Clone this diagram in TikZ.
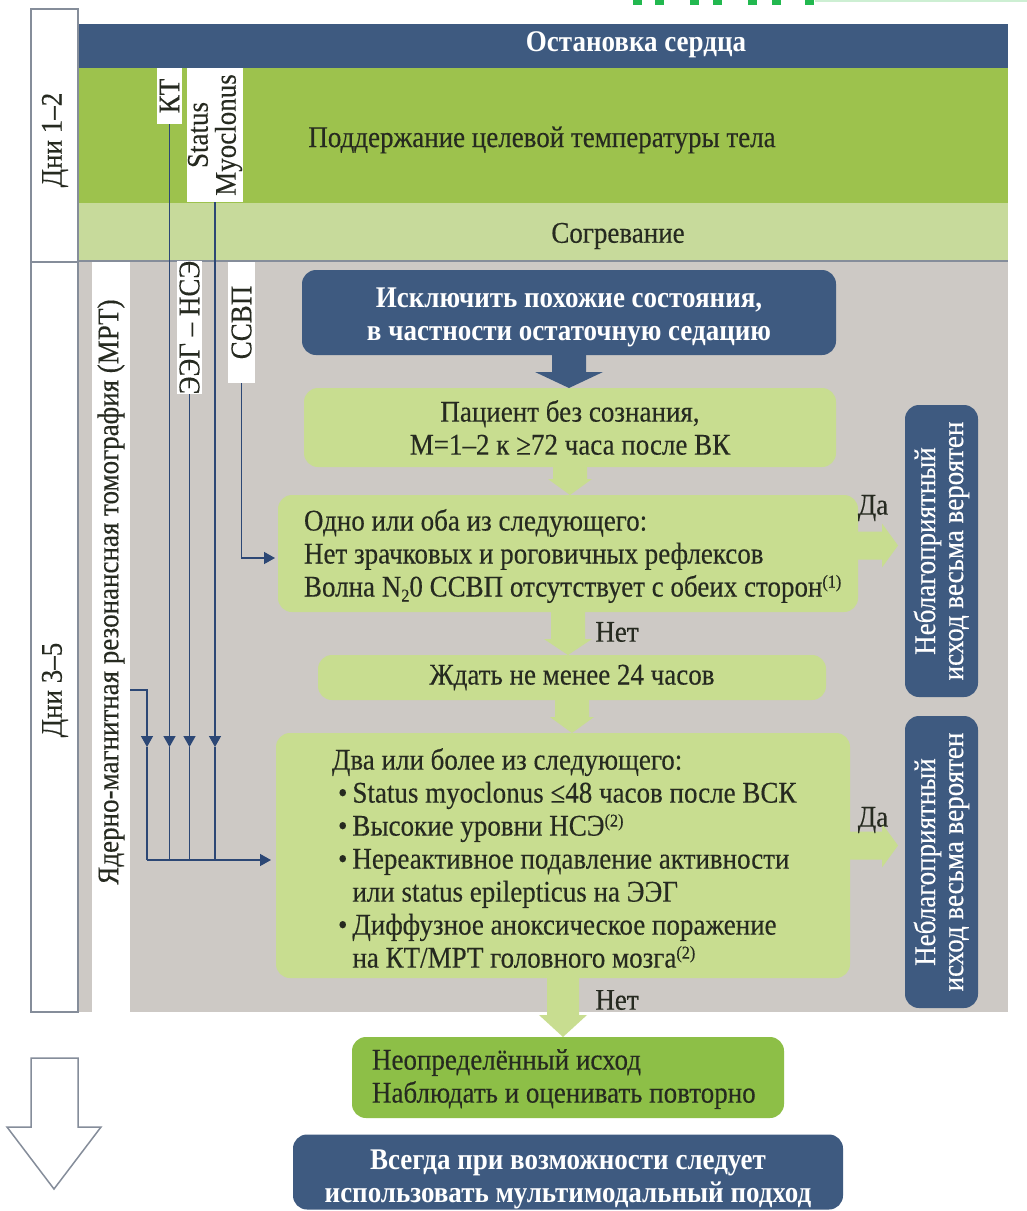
\documentclass[tikz,border=0pt]{standalone}
\usepackage{fontspec}
\setmainfont{Liberation Serif}[FakeStretch=0.9, UprightFeatures={FakeBold=0.3}]
\usetikzlibrary{arrows.meta,calc}
\definecolor{navy}{HTML}{3E5A80}
\definecolor{bandgreen}{HTML}{9DC24D}
\definecolor{lightband}{HTML}{C7DA9B}
\definecolor{graybg}{HTML}{CDC9C5}
\definecolor{boxgreen}{HTML}{C8DD90}
\definecolor{outgreen}{HTML}{8DBF47}
\definecolor{txt}{HTML}{262A20}
\definecolor{linec}{HTML}{2C4775}
\definecolor{framec}{HTML}{858D9A}
\definecolor{topgreen}{HTML}{22B84F}
\definecolor{topline}{HTML}{CDEFD3}
\newcommand{\fatv}[6]{%
  \coordinate (fatip) at (#1 |- #2);
  \fill[#6] ($(#1)+(-#3,-2)$) -- ($(fatip)+(-#3,-#5)$) -- ($(fatip)+(-#4,-#5)$) -- (fatip)
    -- ($(fatip)+(#4,-#5)$) -- ($(fatip)+(#3,-#5)$) -- ($(#1)+(#3,-2)$) -- cycle;}
\newcommand{\fath}[6]{%
  \fill[#6] ($(#1)+(-2,-#3)$) -- ($(#2)+(-#5,-#3)$) -- ($(#2)+(-#5,-#4)$) -- (#2)
    -- ($(#2)+(-#5,#4)$) -- ($(#2)+(-#5,#3)$) -- ($(#1)+(-2,#3)$) -- cycle;}
\newcommand{\supr}[1]{\raisebox{9pt}{\fontsize{18}{18}\selectfont #1}}
\newcommand{\subr}[1]{\raisebox{-5pt}{\fontsize{18}{18}\selectfont #1}}
\begin{document}
\begin{tikzpicture}[x=1pt,y=-1pt,
  every node/.style={inner sep=0pt, outer sep=0pt},
  fs/.style={font=\fontsize{30}{33}\selectfont},
  lbox/.style={fill=boxgreen, rounded corners=14pt},
  nbox/.style={fill=navy, rounded corners=14pt},
  btext/.style={text=white, font=\fontsize{30}{33}\selectfont\bfseries, align=center},
  strip/.style={fill=white, fs, text=txt, rotate=90},
  conn/.style={draw=linec, line width=1.4pt},
  tipd/.style={-{Triangle[width=12pt,length=11pt]}},
  dayframe/.style={draw=framec, line width=1.5pt, fill=white},
  lbl/.style={fs, text=txt}
]
\useasboundingbox (0,0) rectangle (1027,1211);
\fill[white] (0,0) rectangle (1027,1211);
% cut-off fragments at the top edge
\foreach \x in {633,655,690,713,748,772,805} \fill[topgreen] (\x,0) rectangle ++(9,5);
\fill[topline] (815,0) rectangle (1027,2);

% bands
\fill[navy] (78,24) rectangle (1008,68);
\fill[bandgreen] (78,68) rectangle (1008,203);
\fill[lightband] (78,203) rectangle (1008,261);
\fill[graybg] (78,261) rectangle (1008,1012);
\draw[framec, line width=1.5pt] (78,261) -- (1008,261);
\fill[white] (92,262) rectangle (130,1012);

% day frames
\node[dayframe, minimum width=47, minimum height=253, anchor=north west] (d12) at (31,9) {};
\node[dayframe, minimum width=47, minimum height=750, anchor=north west] (d35) at (31,262) {};
\node[lbl, rotate=90] (d12t) at (55,140) {Дни 1–2};
\node[lbl, rotate=90] (d35t) at (55,690) {Дни 3–5};

% band texts
\node[font=\fontsize{30}{33}\selectfont\bfseries, text=white] (arrest) at (636,45) {Остановка сердца};
\node[lbl] (ttm) at (542,140) {Поддержание целевой температуры тела};
\node[lbl] (rewarm) at (618,236) {Согревание};

% method strips
\node[strip, minimum width=56, minimum height=25] (kt) at (169.5,96) {КТ};
\node[strip, minimum width=134, minimum height=56, align=center, font=\fontsize{30}{28}\selectfont] (sm) at (215,135) {Status\\Myoclonus};
\node[strip, minimum width=131, minimum height=25] (eeg) at (189.5,327.5) {ЭЭГ – НСЭ};
\node[strip, minimum width=121, minimum height=27] (ssvp) at (241.5,322.5) {ССВП};
\node[lbl, rotate=90] (mrt) at (111,592) {Ядерно-магнитная резонансная томография (МРТ)};

% flow boxes
\node[nbox, minimum width=534, minimum height=85] (excl) at (569,312.5) {};
\node[btext] (exclt) at (569,317) {Исключить похожие состояния,\\в частности остаточную седацию};
\node[lbox, lbl, minimum width=532, minimum height=79, align=center] (pat) at (570,427.5)
  {Пациент без сознания,\\М=1–2 к ≥72 часа после ВК};
\node[lbox, minimum width=580, minimum height=117] (one) at (568,553.5) {};
\node[lbl, align=left, anchor=west] (onet) at (304,556)
  {Одно или оба из следующего:\\Нет зрачковых и роговичных рефлексов\\Волна N\subr{2}0 ССВП отсутствует с обеих сторон\supr{(1)}};
\node[lbox, lbl, minimum width=508, minimum height=45] (wait) at (572,677.5) {Ждать не менее 24 часов};
\node[lbox, minimum width=574, minimum height=245] (two) at (563,855.5) {};
\node[lbl, align=left, anchor=west] (twot) at (332,858)
  {Два или более из следующего:\\
   \hspace*{6pt}\textbullet\,Status myoclonus ≤48 часов после ВСК\\
   \hspace*{6pt}\textbullet\,Высокие уровни НСЭ\supr{(2)}\\
   \hspace*{6pt}\textbullet\,Нереактивное подавление активности\\
   \hspace*{6pt}\hphantom{\textbullet\,}или status epilepticus на ЭЭГ\\
   \hspace*{6pt}\textbullet\,Диффузное аноксическое поражение\\
   \hspace*{6pt}\hphantom{\textbullet\,}на КТ/МРТ головного мозга\supr{(2)}};
\node[fill=outgreen, rounded corners=14pt, minimum width=432, minimum height=81] (unc) at (568,1077.5) {};
\node[lbl, align=left, anchor=west] (unct) at (372,1079)
  {Неопределённый исход\\Наблюдать и оценивать повторно};
\node[nbox, minimum width=550, minimum height=75] (multi) at (568,1172) {};
\node[btext] (multit) at (568,1179) {Всегда при возможности следует\\использовать мультимодальный подход};

% outcome boxes
\node[fill=navy, rounded corners=14pt, text=white, rotate=90, minimum width=292, minimum height=73,
  align=center, font=\fontsize{30}{28}\selectfont] (badA) at (941.5,551)
  {Неблагоприятный\\исход весьма вероятен};
\node[fill=navy, rounded corners=14pt, text=white, rotate=90, minimum width=292, minimum height=73,
  align=center, font=\fontsize{30}{28}\selectfont] (badB) at (941.5,862)
  {Неблагоприятный\\исход весьма вероятен};

% fat connectors
\fatv{excl.south}{pat.north}{17}{34}{16}{navy}
\fatv{pat.south}{one.north}{17}{22}{16}{boxgreen}
\fatv{one.south}{wait.north}{17}{24}{16}{boxgreen}
\fatv{wait.south}{two.north}{17}{22}{16}{boxgreen}
\fatv{two.south}{unc.north}{16}{24}{22}{boxgreen}
\coordinate (daS1) at ($(one.east)+(0,-8)$);
\coordinate (daT1a) at (badA.north |- daS1);
\coordinate (daT1) at ($(daT1a)+(-7,0)$);
\fath{daS1}{daT1}{14}{22}{16}{boxgreen}
\coordinate (daS2) at ($(two.east)+(0,-10)$);
\coordinate (daT2a) at (badB.north |- daS2);
\coordinate (daT2) at ($(daT2a)+(-7,0)$);
\fath{daS2}{daT2}{14}{22}{16}{boxgreen}

% yes / no labels
\node[lbl] (yes1) at (873,508) {Да};
\node[lbl] (yes2) at (873,820) {Да};
\node[lbl] (no1) at (617,632) {Нет};
\node[lbl] (no2) at (617,1000) {Нет};

% thin connectors
\coordinate (mrtout) at (130,690);
\coordinate (mrtA) at (147,747);
\coordinate (mrtB) at (147,860);
\coordinate (ktA) at (kt.west |- mrtA);
\coordinate (ktB) at (kt.west |- mrtB);
\coordinate (eegA) at (eeg.west |- mrtA);
\coordinate (eegB) at (eeg.west |- mrtB);
\coordinate (smA) at (sm.west |- mrtA);
\coordinate (smB) at (sm.west |- mrtB);
\coordinate (ssvpT) at ($(one.west)+(0,4.5)$);
\draw[conn, tipd] (mrtout) -| (mrtA);
\draw[conn] (mrtA) -- (mrtB);
\draw[conn, tipd] (kt.west) -- (ktA);
\draw[conn] (ktA) -- (ktB);
\draw[conn, tipd] (eeg.west) -- (eegA);
\draw[conn] (eegA) -- (eegB);
\draw[conn, tipd] (sm.west) -- (smA);
\draw[conn] (smA) -- (smB);
\draw[conn, tipd, shorten >=5pt] (mrtB) -- (two.west |- mrtB);
\draw[conn, tipd, shorten >=3pt] (ssvp.west) |- (ssvpT);

% big hollow arrow
\draw[framec, line width=1.5pt, fill=white] (31,1058) -- (78,1058) -- (78,1127) -- (101,1127)
  -- (54,1189) -- (7,1127) -- (31,1127) -- cycle;
\end{tikzpicture}
\end{document}
